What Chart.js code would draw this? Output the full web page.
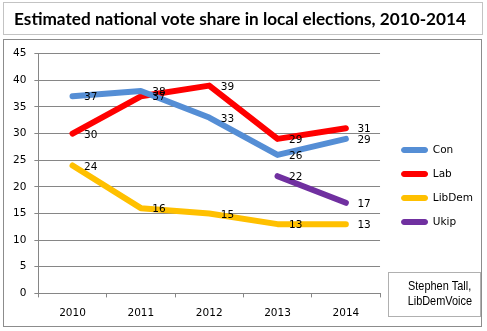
<!DOCTYPE html>
<html>
<head>
<meta charset="utf-8">
<script src="https://cdn.jsdelivr.net/npm/chart.js@4/dist/chart.umd.min.js"></script>
<style>
  html, body { margin: 0; padding: 0; background: #fff; }
  #wrap { width: 487px; height: 331px; }
</style>
</head>
<body>
<div id="wrap"><canvas id="MyChart"></canvas></div>
<script>
const years = ['2010', '2011', '2012', '2013', '2014'];
const con = [37, 38, 33, 26, 29];
const lab = [30, 37, 39, 29, 31];
const libDem = [24, 16, 15, 13, 13];
const ukip = [null, null, null, 22, 17];

const tickFont = { family: 'DejaVu Sans', size: 10.5 };

function series(label, values, colour) {
  return {
    label: label,
    data: values,
    borderColor: colour,
    backgroundColor: colour,
    borderWidth: 6,
    borderCapStyle: 'round',
    borderJoinStyle: 'round',
    pointRadius: 0,
    tension: 0,
    spanGaps: false
  };
}

// boxes round the title and the chart, like the Excel sheet
const frames = {
  id: 'frames',
  beforeDraw(chart) {
    const ctx = chart.ctx;
    ctx.save();
    ctx.fillStyle = '#fff';
    ctx.fillRect(0, 0, chart.width, chart.height);
    ctx.lineWidth = 1;
    ctx.strokeStyle = '#c3c3c3';
    ctx.strokeRect(3.5, 2.5, 479, 32);
    ctx.strokeStyle = '#8c8c8c';
    ctx.strokeRect(3.5, 39.5, 478, 287);
    ctx.restore();
  }
};

// legend sits a little off the plot in the original
const legendNudge = {
  id: 'legendNudge',
  afterLayout(chart) {
    const lg = chart.legend;
    lg.left += 8; lg.right += 8;
    lg.top += 21; lg.bottom += 21;
  }
};

// value labels to the right of each point
const valueLabels = {
  id: 'valueLabels',
  afterDatasetsDraw(chart) {
    const ctx = chart.ctx;
    ctx.save();
    ctx.font = '10.5px "DejaVu Sans"';
    ctx.fillStyle = '#000';
    ctx.textAlign = 'left';
    ctx.textBaseline = 'middle';
    chart.data.datasets.forEach((ds, i) => {
      const meta = chart.getDatasetMeta(i);
      meta.data.forEach((pt, j) => {
        const v = ds.data[j];
        if (v === null || v === undefined) return;
        ctx.fillText(String(v), pt.x + 11.5, pt.y + 1.5);
      });
    });
    ctx.restore();
  }
};

// credit box, bottom right
const credit = {
  id: 'credit',
  afterDraw(chart) {
    const ctx = chart.ctx;
    ctx.save();
    ctx.strokeStyle = '#b0b0b0';
    ctx.lineWidth = 1;
    ctx.strokeRect(388.5, 272.5, 92, 44);
    ctx.fillStyle = '#000';
    ctx.font = '13px "Liberation Sans"';
    ctx.textAlign = 'right';
    ctx.textBaseline = 'middle';
    ctx.translate(472, 0);
    ctx.scale(0.84, 1);
    ctx.fillText('Stephen Tall,', -1, 286);
    ctx.fillText('LibDemVoice', 0, 301);
    ctx.restore();
  }
};

const config = {
  type: 'line',
  data: {
    labels: years,
    datasets: [
      series('Con', con, '#558ed5'),
      series('Lab', lab, '#ff0000'),
      series('LibDem', libDem, '#ffc000'),
      series('Ukip', ukip, '#7030a0')
    ]
  },
  options: {
    responsive: true,
    maintainAspectRatio: false,
    animation: false,
    devicePixelRatio: 1,
    layout: { padding: { left: 5, right: 12, top: 0, bottom: 1 } },
    plugins: {
      title: {
        display: true,
        text: 'Estimated national vote share in local elections, 2010-2014',
        color: '#000',
        font: { family: 'Lato', size: 17.2, weight: 'bold' },
        padding: { top: 9, bottom: 24 }
      },
      legend: {
        position: 'right',
        labels: {
          color: '#000',
          font: tickFont,
          boxWidth: 26,
          boxHeight: 5,
          padding: 13.5,
          useBorderRadius: true,
          borderRadius: 2.5,
          generateLabels: chart => chart.data.datasets.map((ds, i) => ({
            text: ds.label,
            fillStyle: ds.borderColor,
            strokeStyle: ds.borderColor,
            lineWidth: 1,
            borderRadius: 2.5,
            fontColor: '#000',
            hidden: false,
            datasetIndex: i
          }))
        }
      },
      tooltip: { enabled: false }
    },
    scales: {
      x: {
        offset: true,
        grid: { offset: true, drawOnChartArea: false, tickLength: 4, color: '#868686' },
        border: { color: '#868686' },
        ticks: { color: '#000', font: tickFont, padding: 10, maxRotation: 0 }
      },
      y: {
        min: 0,
        max: 45,
        ticks: { stepSize: 5, color: '#000', font: tickFont, padding: 8 },
        grid: { color: '#868686', tickLength: 4 },
        border: { color: '#868686' }
      }
    }
  },
  plugins: [frames, legendNudge, valueLabels, credit]
};

const myChart = new Chart(document.getElementById('MyChart'), config);
</script>
</body>
</html>
